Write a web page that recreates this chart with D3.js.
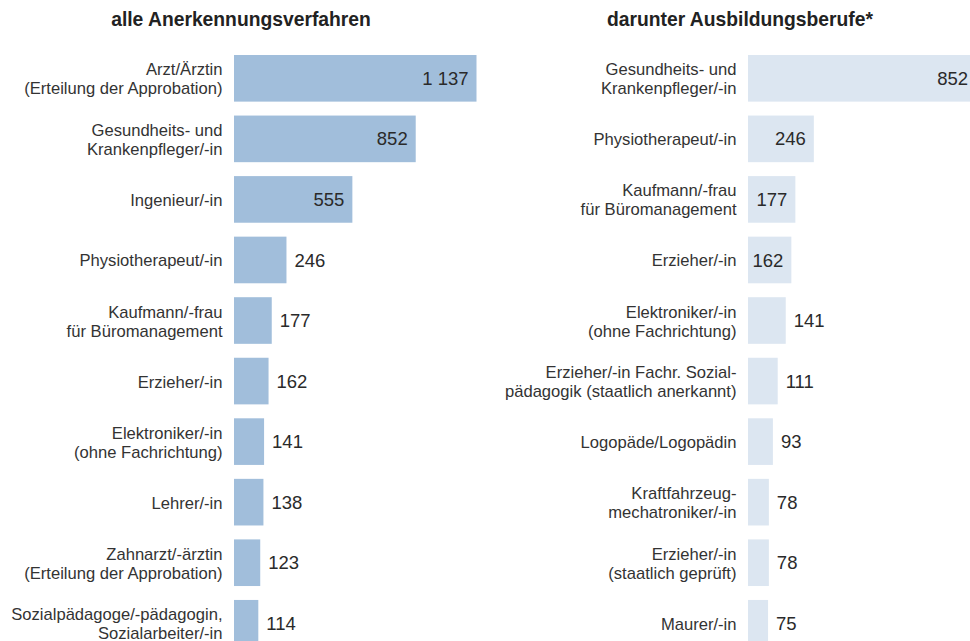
<!DOCTYPE html>
<html lang="de">
<head>
<meta charset="UTF-8">
<title>Anerkennungsverfahren nach Berufen</title>
<script src="https://d3js.org/d3.v7.min.js"></script>
<style>
    body { margin: 0; background: #fff; }
    svg { display: block; font-family: "Liberation Sans", Arial, Helvetica, sans-serif; }
    .title { font-weight: bold; font-size: 19.3px; fill: #222; }
    .label { font-size: 16.6px; fill: #333; }
    .value { font-size: 18.5px; fill: #2a2a2a; }
</style>
</head>
<body>
<svg width="970" height="641"></svg>
<script>
// left panel: all recognition procedures
const leftTitle = "alle Anerkennungsverfahren";
const leftLabels = [
    "Arzt/Ärztin\n(Erteilung der Approbation)",
    "Gesundheits- und\nKrankenpfleger/-in",
    "Ingenieur/-in",
    "Physiotherapeut/-in",
    "Kaufmann/-frau\nfür Büromanagement",
    "Erzieher/-in",
    "Elektroniker/-in\n(ohne Fachrichtung)",
    "Lehrer/-in",
    "Zahnarzt/-ärztin\n(Erteilung der Approbation)",
    "Sozialpädagoge/-pädagogin,\nSozialarbeiter/-in"
];
const leftValues = [1137, 852, 555, 246, 177, 162, 141, 138, 123, 114];

// right panel: of which training occupations
const rightTitle = "darunter Ausbildungsberufe*";
const rightLabels = [
    "Gesundheits- und\nKrankenpfleger/-in",
    "Physiotherapeut/-in",
    "Kaufmann/-frau\nfür Büromanagement",
    "Erzieher/-in",
    "Elektroniker/-in\n(ohne Fachrichtung)",
    "Erzieher/-in Fachr. Sozial-\npädagogik (staatlich anerkannt)",
    "Logopäde/Logopädin",
    "Kraftfahrzeug-\nmechatroniker/-in",
    "Erzieher/-in\n(staatlich geprüft)",
    "Maurer/-in"
];
const rightValues = [852, 246, 177, 162, 141, 111, 93, 78, 78, 75];

const fmt = d3.formatLocale({ decimal: ",", thousands: " ", grouping: [3], currency: ["", " €"] }).format(",d");

const svg = d3.select("svg");

const y = d3.scaleBand()
    .domain(d3.range(10))
    .range([48.04, 653.54])
    .paddingInner(0.23)
    .paddingOuter(0.115);

function panel(cfg) {
    const x = d3.scaleLinear()
        .domain([0, d3.max(cfg.values)])
        .range([cfg.x0, cfg.x1]);

    const g = svg.append("g");

    g.append("text")
        .attr("class", "title")
        .attr("x", cfg.titleX)
        .attr("y", 25.7)
        .attr("text-anchor", "middle")
        .text(cfg.title);

    const rows = g.selectAll(".row")
        .data(cfg.values.map((v, i) => ({ v: v, label: cfg.labels[i], i: i })))
        .join("g")
        .attr("class", "row");

    rows.append("rect")
        .attr("x", x(0))
        .attr("y", d => y(d.i))
        .attr("width", d => x(d.v) - x(0))
        .attr("height", y.bandwidth())
        .attr("fill", cfg.color);

    // category labels, one or two lines, right aligned before the bar
    rows.each(function(d) {
        const lines = d.label.split("\n");
        const mid = y(d.i) + y.bandwidth() / 2 + 6.5;
        const t = d3.select(this).append("text")
            .attr("class", "label")
            .attr("text-anchor", "end");
        lines.forEach((ln, k) => {
            t.append("tspan")
                .attr("x", x(0) - 11.5)
                .attr("y", mid + (k - (lines.length - 1) / 2) * 19)
                .text(ln);
        });
    });

    // values: inside the long bars, after the short ones
    rows.append("text")
        .attr("class", "value")
        .attr("x", d => d.v >= cfg.inside ? x(d.v) - 8 : x(d.v) + 8)
        .attr("y", d => y(d.i) + y.bandwidth() / 2 + 6.6)
        .attr("text-anchor", d => d.v >= cfg.inside ? "end" : "start")
        .text(d => fmt(d.v));
}

panel({ title: leftTitle, labels: leftLabels, values: leftValues,
        x0: 234, x1: 476.5, titleX: 241, color: "#a1bedb", inside: 300 });
panel({ title: rightTitle, labels: rightLabels, values: rightValues,
        x0: 748, x1: 976, titleX: 740, color: "#dce6f1", inside: 150 });
</script>
</body>
</html>
